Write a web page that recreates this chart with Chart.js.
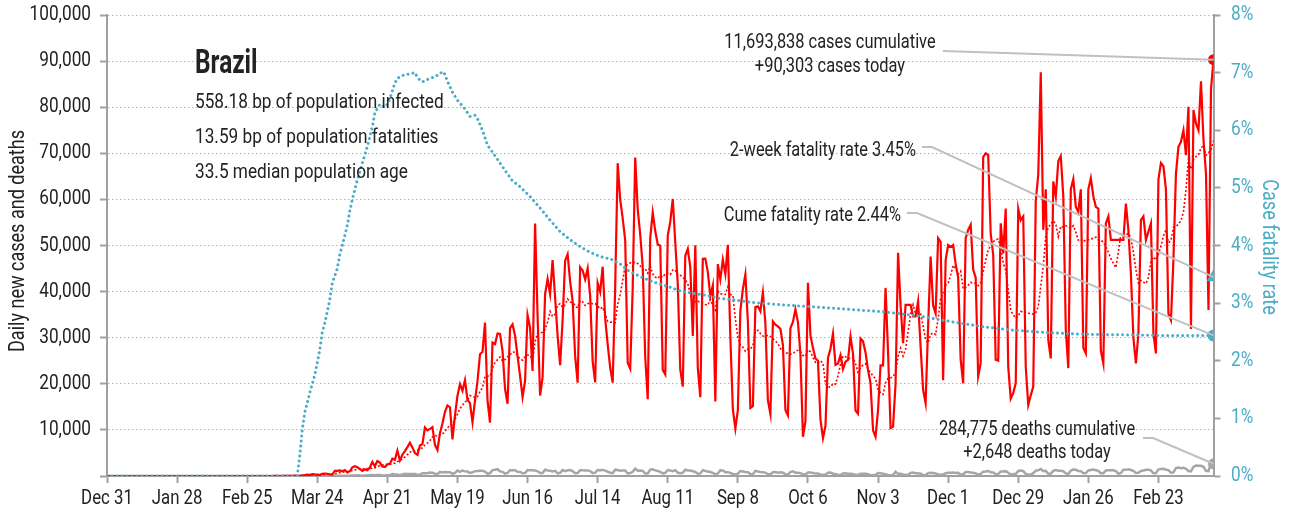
<!DOCTYPE html>
<html>
<head>
<meta charset="utf-8">
<title>Brazil daily cases</title>
<script src="https://cdn.jsdelivr.net/npm/chart.js@4.4.1/dist/chart.umd.min.js"></script>
<style>
  html, body { margin: 0; padding: 0; background: #fff; }
  #wrap { width: 1307px; height: 518px; }
</style>
</head>
<body>
<div id="wrap"><canvas id="chart" width="1307" height="518"></canvas></div>
<script>
/* DATA  (day 0 = Dec 31, 2019) */
const tickDays = [0, 28, 56, 84, 112, 140, 168, 196, 224, 252, 280, 308, 336, 364, 392, 420];
const tickLabels = ["Dec 31", "Jan 28", "Feb 25", "Mar 24", "Apr 21", "May 19", "Jun 16", "Jul 14",
                    "Aug 11", "Sep 8", "Oct 6", "Nov 3", "Dec 1", "Dec 29", "Jan 26", "Feb 23"];

const dailyCases = [
  0,
  /* Jan 20 */ 0,0,0,0,0,0,0,0,0,0, 0,0,0,0,0,0,0,0,0,0, 0,0,0,0,0,0,0,0,0,0, 0,
  /* Feb 20 */ 0,0,0,0,0,0,0,0,0,0, 0,0,0,0,0,0,0,0,0,0, 0,0,0,0,0, 1,0,0,1,
  /* Mar 20 */ 0,0,0,1,4, 0,6,6,0,9, 18,25,21,23,79, 34,57,137,193,283, 224,418,345,310,232, 482,502,487,352,323, 1138,
  /* Apr 20 */ 1119,1208,1012,1304,770, 1031,1873,2136,1922,1546, 1089,1465,1238,1832,3058, 2105,3257,2917,2055,1927, 2498,2678,3735,3503,5514, 3379,4613,5385,6276,7218,
  /* May 20 */ 6209,4970,4588,6633,6935, 10503,9888,10222,10611,6760, 5632,9258,11385,13944,15305, 14919,7938,13140,17408,19951, 18508,20803,16508,15813,11687, 16324,20599,26417,26928,33274, 16409,
  /* Jun 20 */ 11598,28936,28633,30925,30830, 27075,18912,15654,32091,32913, 30412,25982,21704,17110,20647, 34918,32188,22765,54771,34666, 17459,21432,39436,42725,39483, 46860,38693,30476,24052,33846,
  /* Jul 20 */ 46712,48105,42223,37923,26051, 20229,45305,44571,42619,45048, 39023,24831,20286,41857,39924, 45403,34177,28532,23529,20257, 41008,67860,59961,55891,51147, 24578,23284,40816,69074,57837, 52383,
  /* Aug 20 */ 45392,25800,16641,51603,57152, 53139,50230,49970,23010,22048, 52160,55155,60091,50644,41576, 23101,19373,47784,49298,45323, 30355,50032,23421,17078,47134, 47161,44235,38978,41350,16158, 45961,
  /* Sep 20 */ 42659,46934,43773,50163,30168, 14521,10273,14279,35816,40557, 43718,33523,14768,15155,36653, 36820,35736,39797,33057,16389, 13439,33536,32817,32445,31911, 28378,14318,13155,32058,33413,
  /* Oct 20 */ 36157,33400,26300,8500,11900, 41900,30500,27800,25500,25000, 12200,8200,10900,25600,27600, 30900,24100,24400,26200,23200, 24800,25200,30300,26500,14200, 13500,29800,29200,26800,23000, 20100,
  /* Nov 20 */ 9900,8500,14300,24000,24000, 40800,26800,10400,10700,20000, 48400,37000,28800,37100,37100, 37100,34600,34600,37900,28000, 18700,15800,32400,47600,37000, 35300,51600,50800,20800,46800,
  /* Dec 20 */ 50100,49700,50100,46000,43100, 25300,20100,51600,53400,54500, 44800,43000,21600,24500,69200, 70000,69600,52600,48000,25200, 25000,54800,48300,58000,23700, 16800,18000,20100,58000,55500, 56300,
  /* Jan 21 */ 23700,15400,17500,19400,59600, 65400,87600,53400,62200,29500, 25500,63900,60600,68300,69400, 60700,31700,23400,62200,64400, 58400,57300,62200,27800,26600, 62200,64600,60700,58400,58000, 27200,
  /* Feb 21 */ 24400,54800,56300,51200,51200, 51200,51200,51200,51200,59100, 53400,43900,30000,24400,30900, 55500,56300,51200,53000,54800, 30900,26600,64300,67900,67200, 62200,35200,33800,
  /* Mar 21 */ 47000,65600,71400,72500,75000, 69600,80100,31900,79400,76500, 75000,85600,72900,65600,36000, 83900,90303
];

const dailyDeaths = [
  0,
  /* Jan 20 */ 0,0,0,0,0,0,0,0,0,0, 0,0,0,0,0,0,0,0,0,0, 0,0,0,0,0,0,0,0,0,0, 0,
  /* Feb 20 */ 0,0,0,0,0,0,0,0,0,0, 0,0,0,0,0,0,0,0,0,0, 0,0,0,0,0,0,0,0,0,
  /* Mar 20 */ 0,0,0,0,0, 0,0,0,0,0, 0,0,0,0,0, 0,1,2,3,5, 7,7,9,12,11, 20,15,22,22,23, 42,
  /* Apr 20 */ 40,58,60,73,54, 67,114,133,141,115, 68,99,105,204,204, 188,217,206,115,113, 166,165,407,357,346, 189,338,474,449,435,
  /* May 20 */ 428,421,275,296,600, 615,610,751,730,496, 396,881,749,844,824, 816,485,674,1179,888, 1188,1001,965,653,807, 1039,1086,1156,1124,956, 480,
  /* Jun 20 */ 623,1262,1349,1473,1005, 904,525,679,1272,1274, 1239,909,892,612,627, 1282,1269,1238,1206,1022, 641,654,1374,1185,1141, 990,1109,552,692,1280,
  /* Jul 20 */ 1038,1252,1290,1091,602, 620,1254,1223,1220,1214, 1071,631,733,1300,1233, 1322,1163,921,716,632, 1367,1284,1156,1211,1211, 555,627,921,1595,1129, 1212,
  /* Aug 20 */ 1088,541,561,1394,1437, 1226,1079,905,572,703, 1274,1175,1060,1262,709, 620,684,1352,1204,1204, 1045,892,494,565,1271, 1085,984,855,682,366, 553,
  /* Sep 20 */ 1215,1184,834,814,682, 447,310,504,1075,983, 874,814,415,381,1113, 967,858,829,739,363, 377,809,869,729,831, 733,363,335,863,1031,
  /* Oct 20 */ 729,728,627,366,310, 734,733,676,524,556, 314,241,309,709,754, 497,461,230,201,566, 571,496,465,432,248, 231,510,474,508,399, 189,
  /* Nov 20 */ 190,262,630,580,516, 375,238,170,208,908, 467,467,343,248,210, 676,754,614,580,480, 186,207,630,698,654, 555,347,250,317,587,
  /* Dec 20 */ 697,698,755,672,694, 313,376,842,848,770, 686,574,279,433,936, 964,1092,823,768,381, 451,962,968,1054,706, 314,415,431,1111,1194, 1074,
  /* Jan 21 */ 462,314,293,620,1171, 1242,1524,1035,1111,469, 484,1110,1274,1151,1131, 1050,551,452,1183,1382, 1340,1096,1054,592,637, 1214,1283,1386,1265,1119, 595,
  /* Feb 21 */ 577,1209,1232,1254,1239, 1051,502,617,1340,1330, 1452,1308,1111,658,713, 1076,1179,1367,1337,1226, 593,649,1386,1541,1582, 1337,1275,721,
  /* Mar 21 */ 778,1726,1840,1699,1800, 1555,1086,987,1954,2286, 2233,2216,1997,1127,1057, 2841,2648
];

// cumulative case fatality rate, % (read at these days)
const cfrDays = [0, 76, 77, 78, 79, 81, 82, 83, 85, 86, 87, 89, 90, 92, 93, 94, 96, 97, 98, 100,
  102, 104, 106, 107, 109, 111, 112, 113, 115, 116, 118, 121, 123, 124, 125, 126, 127, 129, 131, 133,
  134, 135, 136, 138, 140, 141, 143, 145, 147, 148, 150, 152, 154, 157, 160, 162, 165, 169, 173, 177,
  181, 185, 189, 193, 197, 202, 205, 208, 213, 218, 224, 229, 234, 240, 245, 250, 258, 270, 284, 297,
  310, 324, 337, 350, 362, 375, 389, 405, 420, 442];
const cfrRates = [0, 0, 0.35, 0.8, 1.1, 1.44, 1.6, 1.75, 2.19, 2.5, 2.65, 3.06, 3.35, 3.6, 3.85, 4.0, 4.35, 4.6, 4.8, 5.14,
  5.43, 5.72, 6.06, 6.3, 6.45, 6.4, 6.45, 6.55, 6.82, 6.9, 6.95, 6.98, 7.0, 6.92, 6.87, 6.84, 6.86, 6.9, 6.93, 6.98,
  7.02, 6.97, 6.85, 6.66, 6.52, 6.47, 6.37, 6.24, 6.26, 6.2, 6.0, 5.74, 5.62, 5.43, 5.24, 5.12, 5.02, 4.85, 4.65, 4.44,
  4.24, 4.10, 3.98, 3.88, 3.81, 3.75, 3.68, 3.57, 3.46, 3.37, 3.29, 3.21, 3.17, 3.13, 3.08, 3.06, 3.01, 2.97, 2.93, 2.89,
  2.85, 2.78, 2.68, 2.59, 2.53, 2.49, 2.46, 2.45, 2.44, 2.44];

const twoWeekRate = 3.45;
const cumeCases = 11693838;
const cumeDeaths = 284775;
const infoLines = ["558.18 bp of population infected", "13.59 bp of population fatalities", "33.5 median population age"];

if (dailyCases.length !== 443 || dailyDeaths.length !== 443) {
  console.error("series length", dailyCases.length, dailyDeaths.length);
}

/* STYLE */
const FONT = 'Roboto, "DejaVu Sans Condensed", sans-serif';
const RED = "#FF0000";
const CYAN = "#4BACC6";
const GREY = "#A6A6A6";
const AXIS = "#A0A0A0";
const INK = "#222222";
const NARROW = 0.82;   // horizontal squeeze for a condensed look
const fmt = n => n.toLocaleString("en-US");

const lastDay = dailyCases.length - 1;

// trailing 7-day mean of new cases
const weekAvg = dailyCases.map((v, i) => {
  const win = dailyCases.slice(Math.max(0, i - 6), i + 1);
  return win.reduce((a, b) => a + b, 0) / win.length;
});

const asPoints = arr => arr.map((v, i) => ({ x: i, y: v }));
const endDot = r => c => (c.dataIndex === c.dataset.data.length - 1 ? r : 0);

function squeezed(c, text, x, y, align, sx) {
  c.save();
  c.translate(x, y);
  c.scale(sx || NARROW, 1);
  c.textAlign = align;
  c.fillText(text, 0, 0);
  c.restore();
}

/* LABELS + LEADER LINES */
const notes = {
  id: "notes",
  afterDatasetsDraw(chart) {
    const c = chart.ctx;
    const xs = chart.scales.x, ys = chart.scales.y, yr = chart.scales.y1;
    const ex = xs.getPixelForValue(lastDay);
    const leaders = [
      [[943, 51], [ex, ys.getPixelForValue(dailyCases[lastDay])]],
      [[922, 147], [932, 147], [ex, yr.getPixelForValue(twoWeekRate)]],
      [[907, 213], [917, 213], [ex, yr.getPixelForValue(cfrRates[cfrRates.length - 1])]],
      [[1143, 438], [1153, 438], [ex, ys.getPixelForValue(dailyDeaths[lastDay])]]
    ];
    c.save();
    c.strokeStyle = "#C0C0C0";
    c.lineWidth = 2;
    leaders.forEach(pts => {
      c.beginPath();
      pts.forEach((p, i) => (i ? c.lineTo(p[0], p[1]) : c.moveTo(p[0], p[1])));
      c.stroke();
    });
    c.restore();
  },
  afterDraw(chart) {
    const c = chart.ctx;
    const xs = chart.scales.x, ys = chart.scales.y, yr = chart.scales.y1;
    c.save();
    c.fillStyle = INK;

    // tick labels
    c.textBaseline = "middle";
    c.font = "20px " + FONT;
    ys.ticks.forEach(t => {
      if (t.value > 0) squeezed(c, fmt(t.value), 91, ys.getPixelForValue(t.value), "right", 0.86);
    });
    xs.ticks.forEach(t => {
      squeezed(c, tickLabels[tickDays.indexOf(t.value)], xs.getPixelForValue(t.value), 499, "center", 0.84);
    });
    c.fillStyle = CYAN;
    yr.ticks.forEach(t => squeezed(c, t.value + "%", 1231, yr.getPixelForValue(t.value), "left", 0.86));

    // axis titles
    c.font = "22px " + FONT;
    c.save();
    c.fillStyle = INK;
    c.translate(18, 241);
    c.rotate(-Math.PI / 2);
    squeezed(c, "Daily new cases and deaths", 0, 0, "center");
    c.restore();
    c.save();
    c.translate(1268, 247);
    c.rotate(Math.PI / 2);
    squeezed(c, "Case fatality rate", 0, 0, "center");
    c.restore();

    // country heading and notes
    c.fillStyle = INK;
    c.textBaseline = "alphabetic";
    c.font = "bold 33px " + FONT;
    squeezed(c, "Brazil", 195, 73, "left", 0.74);

    c.font = "21px " + FONT;
    infoLines.forEach((t, i) => squeezed(c, t, 195, 108 + i * 35, "left"));

    c.font = "20px " + FONT;
    squeezed(c, fmt(cumeCases) + " cases cumulative", 830, 48, "center");
    squeezed(c, "+" + fmt(dailyCases[lastDay]) + " cases today", 830, 72, "center");
    squeezed(c, fmt(cumeDeaths) + " deaths cumulative", 1037, 435, "center");
    squeezed(c, "+" + fmt(dailyDeaths[lastDay]) + " deaths today", 1037, 458, "center");
    squeezed(c, "2-week fatality rate " + twoWeekRate.toFixed(2) + "%", 916, 156, "right");
    squeezed(c, "Cume fatality rate " + cfrRates[cfrRates.length - 1].toFixed(2) + "%", 901, 221, "right");

    c.restore();
  }
};

/* CHART */
const ctx = document.getElementById("chart");

new Chart(ctx, {
  type: "line",
  data: {
    datasets: [
      {
        label: "Cume fatality rate",
        data: cfrDays.map((d, i) => ({ x: d, y: cfrRates[i] })),
        yAxisID: "y1",
        borderColor: CYAN,
        backgroundColor: CYAN,
        borderWidth: 3,
        borderDash: [0.01, 5],
        borderCapStyle: "round",
        pointRadius: endDot(6),
        pointBorderWidth: 0,
        tension: 0
      },
      {
        label: "2-week fatality rate",
        data: [{ x: lastDay, y: twoWeekRate }],
        yAxisID: "y1",
        showLine: false,
        pointStyle: "triangle",
        pointRadius: 8,
        pointBorderWidth: 0,
        backgroundColor: CYAN,
        borderColor: CYAN
      },
      {
        label: "7-day average",
        data: asPoints(weekAvg),
        yAxisID: "y",
        borderColor: RED,
        borderWidth: 1.6,
        borderDash: [2, 2],
        pointRadius: 0,
        tension: 0
      },
      {
        label: "New cases",
        data: asPoints(dailyCases),
        yAxisID: "y",
        borderColor: RED,
        backgroundColor: RED,
        borderWidth: 2.2,
        pointRadius: endDot(5.5),
        pointBorderWidth: 0,
        tension: 0
      },
      {
        label: "New deaths",
        data: asPoints(dailyDeaths),
        yAxisID: "y",
        borderColor: GREY,
        backgroundColor: GREY,
        borderWidth: 2.5,
        pointRadius: endDot(5.5),
        pointBorderWidth: 0,
        tension: 0
      }
    ]
  },
  options: {
    responsive: false,
    animation: false,
    devicePixelRatio: 1,
    layout: { padding: { top: 15, left: 0, right: 0, bottom: 0 } },
    plugins: {
      legend: { display: false },
      tooltip: { enabled: false }
    },
    scales: {
      x: {
        type: "linear",
        min: 0,
        max: lastDay,
        afterBuildTicks: s => { s.ticks = tickDays.map(v => ({ value: v })); },
        afterFit: s => { s.height = 42; },
        ticks: { display: false },
        grid: { drawOnChartArea: false, tickLength: 7, tickColor: AXIS, tickWidth: 2 },
        border: { color: AXIS, width: 2 }
      },
      y: {
        position: "left",
        min: 0,
        max: 100000,
        afterFit: s => { s.width = 107; },
        ticks: { display: false, stepSize: 10000 },
        grid: { color: "#B4B4B4", lineWidth: 1, tickLength: 7, tickColor: AXIS, tickWidth: 2 },
        border: { color: AXIS, width: 2, dash: [1.5, 2.5] }
      },
      y1: {
        position: "right",
        min: 0,
        max: 8,
        afterFit: s => { s.width = 93.5; },
        ticks: { display: false, stepSize: 1 },
        grid: { drawOnChartArea: false, tickLength: 7, tickColor: AXIS, tickWidth: 2 },
        border: { color: AXIS, width: 2 }
      }
    }
  },
  plugins: [notes]
});
</script>
</body>
</html>
